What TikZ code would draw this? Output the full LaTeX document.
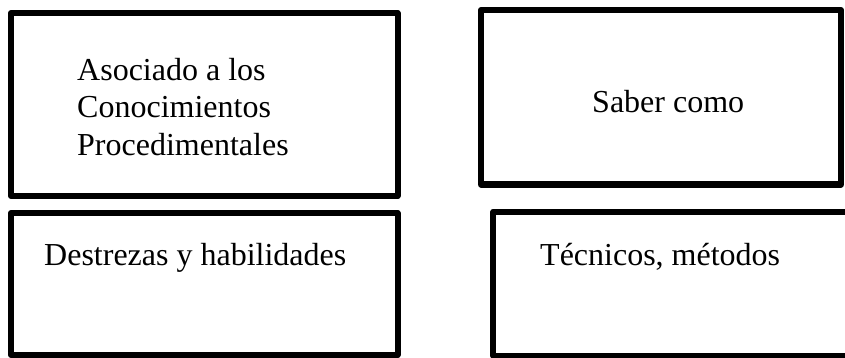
\documentclass[tikz,border=0pt]{standalone}
\usepackage{fontspec}
\setmainfont{Liberation Serif}
\tikzset{
  boxline/.style={draw=black, line width=6pt, line join=round},
  lbl/.style={anchor=base west, inner sep=0pt, font=\fontsize{32}{38}\selectfont}
}
\begin{document}
\begin{tikzpicture}[x=1pt,y=-1pt]
\useasboundingbox (0,0) rectangle (845,358);
\draw[boxline] (11,13) rectangle (397.5,196);
\draw[boxline] (481,10) rectangle (841,184.5);
\draw[boxline] (11,213) rectangle (397.5,355);
\draw[boxline] (493.3,211.7) rectangle (852,355.5);
\node[lbl] (a1) at (77,81) {Asociado a los};
\node[lbl] (a2) at (77,118) {Conocimientos};
\node[lbl] (a3) at (77,156) {Procedimentales};
\node[lbl] (b) at (592,113) {Saber como};
\node[lbl] (c) at (44,265) {Destrezas y habilidades};
\node[lbl] (d) at (540,265) {Técnicos, métodos};
\end{tikzpicture}
\end{document}
